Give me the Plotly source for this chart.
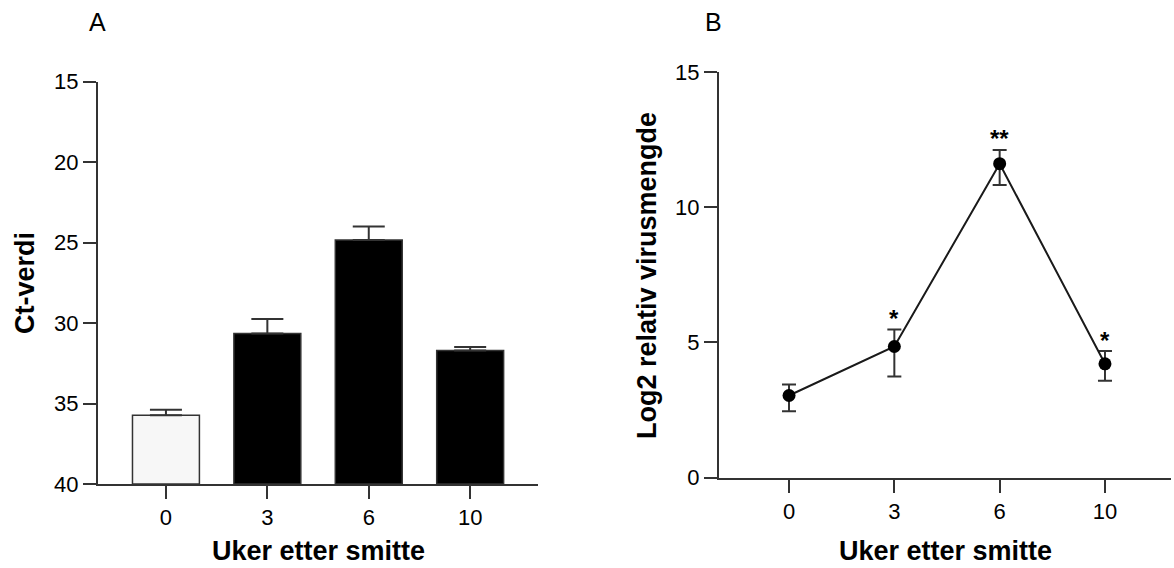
import plotly.graph_objects as go

# ---- data ----
weeks = ["0", "3", "6", "10"]

# Panel A: Ct values (bars), with upper error bar (towards lower Ct)
ct_mean = [35.72, 30.65, 24.84, 31.71]
ct_err_top = [35.38, 29.75, 24.00, 31.49]
bar_colors = ["#f7f7f7", "#000000", "#000000", "#000000"]

# Panel B: log2 relative virus amount
log2_mean = [3.04, 4.85, 11.61, 4.21]
log2_upper = [3.45, 5.48, 12.12, 4.68]
log2_lower = [2.46, 3.74, 10.82, 3.58]
significance = ["", "*", "**", "*"]

ct_ticks = [15, 20, 25, 30, 35, 40]
log2_ticks = [0, 5, 10, 15]
ct_base = 40

W, H = 1174, 568
FONT = "Liberation Sans, Arial, sans-serif"
AX = "#333333"


def px_x(p):
    return p / W


def px_y(p):
    return 1 - p / H


fig = go.Figure()

# Panel A bars (drawn from the 40 baseline on a reversed axis)
fig.add_trace(go.Bar(
    x=weeks,
    y=[m - ct_base for m in ct_mean],
    base=ct_base,
    width=0.66,
    marker=dict(color=bar_colors, line=dict(color=AX, width=1.5)),
    error_y=dict(
        type="data", symmetric=False,
        array=[0 for _ in ct_mean],
        arrayminus=[m - t for m, t in zip(ct_mean, ct_err_top)],
        color=AX, thickness=2, width=16,
    ),
    xaxis="x", yaxis="y",
    showlegend=False,
))

# Panel B line with markers
fig.add_trace(go.Scatter(
    x=weeks,
    y=log2_mean,
    mode="lines+markers",
    line=dict(color="#1a1a1a", width=2),
    marker=dict(color="#000000", size=13),
    error_y=dict(
        type="data", symmetric=False,
        array=[u - m for u, m in zip(log2_upper, log2_mean)],
        arrayminus=[m - l for m, l in zip(log2_mean, log2_lower)],
        color=AX, thickness=2, width=7,
    ),
    xaxis="x2", yaxis="y2",
    showlegend=False,
))

axis_common = dict(
    showline=True, linecolor=AX, linewidth=2,
    ticks="outside", ticklen=13, tickwidth=2, tickcolor=AX,
    showgrid=False, zeroline=False, automargin=False,
    tickfont=dict(family=FONT, size=22, color="#000000"),
)

fig.update_layout(
    width=W, height=H,
    margin=dict(l=0, r=0, t=0, b=0, pad=0, autoexpand=False),
    paper_bgcolor="white", plot_bgcolor="white",
    font=dict(family=FONT, color="#000000"),
    xaxis=dict(
        domain=[px_x(98), px_x(537.5)],
        type="category", range=[-0.67, 3.664],
        anchor="y", **axis_common,
    ),
    yaxis=dict(
        domain=[px_y(484), px_y(81.7)],
        range=[40, 15], tickvals=ct_ticks,
        anchor="x", **axis_common,
    ),
    xaxis2=dict(
        domain=[px_x(719), px_x(1171)],
        type="category", range=[-0.665, 3.627],
        anchor="y2", **axis_common,
    ),
    yaxis2=dict(
        domain=[px_y(477.7), px_y(72)],
        range=[0, 15], tickvals=log2_ticks,
        anchor="x2", **axis_common,
    ),
)


def paper_text(text, x, y, size, angle=0):
    return dict(text=text, x=px_x(x), y=px_y(y), xref="paper", yref="paper",
                xanchor="center", yanchor="middle", textangle=angle,
                showarrow=False, font=dict(family=FONT, size=size, color="#000000"))


annotations = [
    paper_text("A", 97, 22, 25),
    paper_text("B", 713, 22, 25),
    paper_text("<b>Ct-verdi</b>", 25, 283, 27, -90),
    paper_text("<b>Log2 relativ virusmengde</b>", 647, 276, 27, -90),
    paper_text("<b>Uker etter smitte</b>", 318, 551, 27),
    paper_text("<b>Uker etter smitte</b>", 945, 551, 27),
]
for i, (up, sig) in enumerate(zip(log2_upper, significance)):
    if sig:
        annotations.append(dict(
            text=f"<b>{sig}</b>", x=i, y=up, xref="x2", yref="y2",
            xanchor="center", yanchor="middle", yshift=11, showarrow=False,
            font=dict(family=FONT, size=24, color="#000000"),
        ))
fig.update_layout(annotations=annotations)

fig.write_html(
    "out.html",
    config={"displayModeBar": False, "staticPlot": True},
    post_script="document.body.style.margin='0';document.body.style.padding='0';",
)
